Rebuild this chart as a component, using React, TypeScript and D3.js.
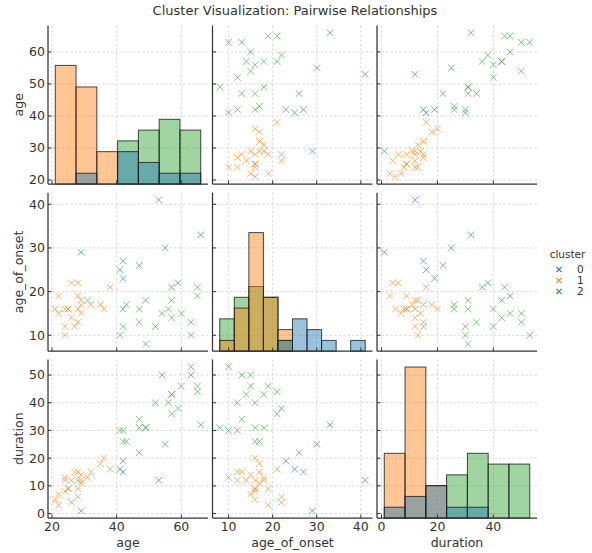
import React from "react";
import * as d3 from "d3";

// cluster labels and their colours
const clusterNames = ["0", "1", "2"];
const clusterColors = ["#1f77b4", "#ff7f0e", "#2ca02c"];

// one entry per patient
const cluster = [
  0, 0, 0, 0, 0, 0, 0, 0,
  1, 1, 1, 1, 1, 1, 1, 1, 1, 1, 1, 1, 1, 1, 1, 1, 1, 1, 1, 1, 1, 1, 1,
  2, 2, 2, 2, 2, 2, 2, 2, 2, 2, 2, 2, 2, 2, 2, 2, 2, 2, 2, 2,
];
const age = [
  53, 66, 29, 55, 47, 42, 41, 42,
  21, 22, 22, 24, 25, 25, 24, 24, 26, 26, 28, 27, 28, 28, 28, 29, 29, 29, 31, 32, 35, 36, 38,
  41, 42, 42, 43, 47, 47, 49, 49, 52, 56, 54, 63, 63, 60, 65, 57, 57, 65, 59, 57,
];
const ageOfOnset = [
  41, 33, 29, 30, 26, 23, 25, 27,
  16, 19, 15, 16, 16, 16, 12, 10, 14, 22, 22, 12, 13, 19, 16, 15, 18, 17, 18, 17, 17, 16, 21,
  10, 12, 16, 17, 13, 16, 18, 8, 12, 16, 15, 13, 10, 15, 19, 14, 18, 21, 22, 21,
];
const duration = [
  12, 32, 1, 25, 22, 19, 16, 15,
  5, 3, 7, 8, 9, 9, 12, 13, 12, 4, 6, 15, 15, 9, 12, 14, 12, 11, 13, 15, 18, 20, 16,
  30, 30, 26, 26, 34, 31, 31, 31, 40, 40, 50, 50, 53, 46, 46, 43, 43, 44, 38, 36,
];

const variableNames = ["age", "age_of_onset", "duration"];
const binCounts = [7, 10, 7];

const ageXTicks = [20, 40, 60];
const onsetXTicks = [10, 20, 30, 40];
const durationXTicks = [0, 20, 40];
const ageYTicks = [20, 30, 40, 50, 60];
const onsetYTicks = [10, 20, 30, 40];
const durationYTicks = [0, 10, 20, 30, 40, 50];

const W = 592;
const H = 553;
const colLeft = [48, 212.5, 377];
const rowTop = [25.5, 192.7, 359.5];
const cellW = 160;
const cellH = 158.5;
const font = "DejaVu Sans, sans-serif";
const ink = "#333";

const xMark = (s: number) => `M${-s},${-s}L${s},${s}M${-s},${s}L${s},${-s}`;

export default function App() {
  const columns = [age, ageOfOnset, duration];
  const xTicks = [ageXTicks, onsetXTicks, durationXTicks];
  const yTicks = [ageYTicks, onsetYTicks, durationYTicks];

  const domains = columns.map((vals) => {
    const [lo, hi] = d3.extent(vals) as [number, number];
    const pad = (hi - lo) * 0.05;
    return [lo - pad, hi + pad];
  });
  const xScales = domains.map((d, i) =>
    d3.scaleLinear().domain(d).range([colLeft[i], colLeft[i] + cellW])
  );
  const yScales = domains.map((d, i) =>
    d3.scaleLinear().domain(d).range([rowTop[i] + cellH, rowTop[i]])
  );

  // histograms with common bins over all clusters
  const hists = columns.map((vals, v) => {
    const [lo, hi] = d3.extent(vals) as [number, number];
    const n = binCounts[v];
    const thresholds = d3.range(1, n).map((k) => lo + (k * (hi - lo)) / n);
    const binner = d3.bin<number, number>().domain([lo, hi]).thresholds(thresholds);
    return clusterNames.map((_, c) =>
      binner(vals.filter((_, i) => cluster[i] === c))
    );
  });
  const maxCount = d3.max(hists.flat(2), (b) => b.length) as number;

  const cells: React.ReactNode[] = [];
  for (let r = 0; r < 3; r++) {
    for (let c = 0; c < 3; c++) {
      const x = xScales[c];
      const y = yScales[r];
      const x0 = colLeft[c];
      const y0 = rowTop[r];
      const key = `${r}-${c}`;
      const grid = (
        <g key={key + "grid"} stroke="#cfcfcf" strokeWidth={0.8} strokeDasharray="2.5,2">
          {xTicks[c].map((t) => (
            <line key={"gx" + t} x1={x(t)} x2={x(t)} y1={y0} y2={y0 + cellH} />
          ))}
          {yTicks[r].map((t) => (
            <line key={"gy" + t} x1={x0} x2={x0 + cellW} y1={y(t)} y2={y(t)} />
          ))}
        </g>
      );
      let marks: React.ReactNode;
      if (r === c) {
        const cy = d3
          .scaleLinear()
          .domain([0, maxCount * 1.05])
          .range([y0 + cellH, y0]);
        marks = (
          <g key={key + "bars"}>
            {[2, 1, 0].map((k) =>
              hists[c][k]
                .filter((b) => b.length > 0)
                .map((b, i) => (
                  <rect
                    key={k + "-" + i}
                    x={x(b.x0 as number)}
                    width={x(b.x1 as number) - x(b.x0 as number)}
                    y={cy(b.length)}
                    height={cy(0) - cy(b.length)}
                    fill={clusterColors[k]}
                    fillOpacity={0.45}
                    stroke="#1a1a1a"
                    strokeOpacity={0.8}
                    strokeWidth={1}
                  />
                ))
            )}
          </g>
        );
      } else {
        marks = (
          <g key={key + "pts"} fill="none" strokeWidth={1} strokeOpacity={0.6}>
            {cluster.map((k, i) => (
              <path
                key={i}
                d={xMark(3.3)}
                transform={`translate(${x(columns[c][i])},${y(columns[r][i])})`}
                stroke={clusterColors[k]}
              />
            ))}
          </g>
        );
      }
      const axes = (
        <g key={key + "axes"} stroke={ink}>
          <line x1={x0} x2={x0} y1={y0} y2={y0 + cellH} strokeWidth={1.25} />
          <line x1={x0} x2={x0 + cellW} y1={y0 + cellH} y2={y0 + cellH} strokeWidth={1.25} />
          {yTicks[r].map((t) => (
            <line key={"ty" + t} x1={x0} x2={x0 + 3.5} y1={y(t)} y2={y(t)} strokeWidth={1} />
          ))}
          {xTicks[c].map((t) => (
            <line key={"tx" + t} x1={x(t)} x2={x(t)} y1={y0 + cellH} y2={y0 + cellH - 3.5} strokeWidth={1} />
          ))}
        </g>
      );
      cells.push(grid, marks, axes);
    }
  }

  return (
    <svg
      width={W}
      height={H}
      style={{ position: "absolute", left: 0, top: 0, background: "#fff" }}
      fontFamily={font}
    >
      <text x={295} y={15} textAnchor="middle" fontSize={13} fill={ink}>
        Cluster Visualization: Pairwise Relationships
      </text>
      {cells}
      {/* y tick labels and axis labels on the left column */}
      {yScales.map((y, r) => (
        <g key={"yl" + r} fontSize={12.5} fill={ink} textAnchor="end">
          {yTicks[r].map((t) => (
            <text key={t} x={45} y={y(t)} dy="0.35em">
              {t}
            </text>
          ))}
          <text
            transform={`translate(23,${rowTop[r] + cellH / 2}) rotate(-90)`}
            textAnchor="middle"
            fontSize={12.5}
          >
            {variableNames[r]}
          </text>
        </g>
      ))}
      {/* x tick labels and axis labels on the bottom row */}
      {xScales.map((x, c) => (
        <g key={"xl" + c} fontSize={12.5} fill={ink} textAnchor="middle">
          {xTicks[c].map((t) => (
            <text key={t} x={x(t)} y={531}>
              {t}
            </text>
          ))}
          <text x={colLeft[c] + cellW / 2} y={547} fontSize={12.5}>
            {variableNames[c]}
          </text>
        </g>
      ))}
      {/* legend */}
      <g fontSize={10.5} fill={ink}>
        <text x={567.5} y={258} textAnchor="middle">
          cluster
        </text>
        {clusterNames.map((name, k) => (
          <g key={name} transform={`translate(559,${269.5 + k * 11})`}>
            <path d={xMark(2.6)} stroke={clusterColors[k]} strokeWidth={1.1} fill="none" />
            <text x={18} dy="0.35em">
              {name}
            </text>
          </g>
        ))}
      </g>
    </svg>
  );
}
